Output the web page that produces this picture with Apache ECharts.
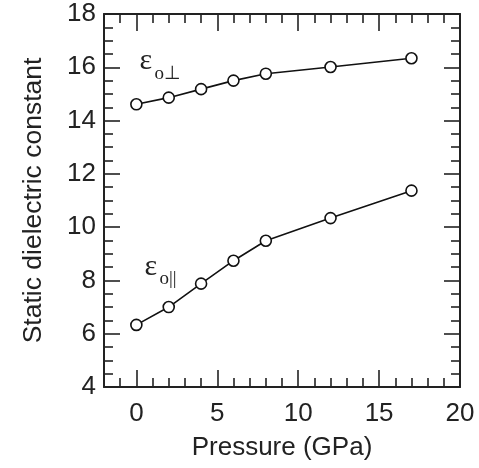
<!DOCTYPE html>
<html>
<head>
<meta charset="utf-8">
<script src="https://cdn.jsdelivr.net/npm/echarts@6/dist/echarts.min.js"></script>
<style>html,body{margin:0;padding:0;background:#fff;}#c{width:479px;height:468px;}</style>
</head>
<body>
<div id="c"></div>
<script>
const pressure = [0, 2, 4, 6, 8, 12, 17];
const epsPerp = [14.61, 14.86, 15.18, 15.50, 15.76, 16.01, 16.34];
const epsPar = [6.33, 7.00, 7.88, 8.74, 9.49, 10.34, 11.37];
const xMajorTicks = [0, 5, 10, 15, 20];
const xMinorTicks = [-1, 1, 2, 3, 4, 6, 7, 8, 9, 11, 12, 13, 14, 16, 17, 18, 19];
const xTitle = 'Pressure (GPa)';
const yTitle = 'Static dielectric constant';

const FONT = 'Liberation Sans, Arial, Helvetica, sans-serif';
const grid = {left: 104, right: 19, top: 14, bottom: 81};
const lineStyle = {color: '#222', width: 2};
const tickStyle = {color: '#222', width: 1.6};

function xAx(gi, pos, major, withLabels) {
  return {
    type: 'value', gridIndex: gi, position: pos, min: -2, max: 20,
    splitLine: {show: false},
    axisLine: {show: major, onZero: false, lineStyle: lineStyle},
    axisTick: {show: true, inside: true, length: major ? 17 : 9, lineStyle: tickStyle,
      customValues: major ? xMajorTicks : xMinorTicks},
    axisLabel: {show: withLabels, customValues: xMajorTicks, fontSize: 26, color: '#222',
      fontFamily: FONT, margin: 14},
    name: withLabels ? xTitle : '', nameLocation: 'middle', nameGap: 48,
    nameTextStyle: {fontSize: 26, color: '#222', fontFamily: FONT}
  };
}
function yAx(pos, withLabels) {
  return {
    type: 'value', position: pos, min: 4, max: 18, interval: 2,
    splitLine: {show: false},
    axisLine: {show: true, onZero: false, lineStyle: lineStyle},
    axisTick: {show: true, inside: true, length: 16, lineStyle: tickStyle},
    minorTick: {show: true, splitNumber: 4, length: 9, lineStyle: tickStyle},
    axisLabel: {show: withLabels, fontSize: 26, color: '#222', fontFamily: FONT, margin: 8},
    name: withLabels ? yTitle : '', nameLocation: 'middle', nameGap: 57,
    nameTextStyle: {fontSize: 26.5, color: '#222', fontFamily: FONT}
  };
}

const chart = echarts.init(document.getElementById('c'));
function mk(data) {
  return {
    type: 'line', xAxisIndex: 0, yAxisIndex: 0,
    data: pressure.map((p, i) => [p, data[i]]),
    symbol: 'circle', symbolSize: 11,
    itemStyle: {color: '#fff', borderColor: '#111', borderWidth: 1.6},
    lineStyle: {color: '#111', width: 1.6},
    z: 5, animation: false
  };
}
chart.setOption({
  animation: false,
  grid: [Object.assign({}, grid), Object.assign({}, grid)],
  xAxis: [
    xAx(0, 'bottom', true, true),
    xAx(0, 'top', true, false),
    xAx(1, 'bottom', false, false),
    xAx(1, 'top', false, false)
  ],
  yAxis: [
    Object.assign(yAx('left', true), {gridIndex: 0}),
    Object.assign(yAx('right', false), {gridIndex: 0}),
    {type: 'value', gridIndex: 1, min: 4, max: 18, show: false},
  ],
  series: [mk(epsPerp), mk(epsPar)]
});

function label(x, y, sub) {
  const p = chart.convertToPixel({xAxisIndex: 0, yAxisIndex: 0}, [x, y]);
  return [
    {type: 'text', x: p[0], y: p[1], style: {text: 'ε', font: '30px "Liberation Serif", "Times New Roman", serif', fill: '#222', textVerticalAlign: 'bottom'}},
    {type: 'text', x: p[0] + 15, y: p[1] + 7, style: {text: sub, font: '19px "Liberation Serif", "Times New Roman", serif', fill: '#222', textVerticalAlign: 'bottom'}}
  ];
}
chart.setOption({
  graphic: [].concat(label(0.2, 15.65, 'o⊥'), label(0.5, 7.95, 'o||'))
});
</script>
</body>
</html>
